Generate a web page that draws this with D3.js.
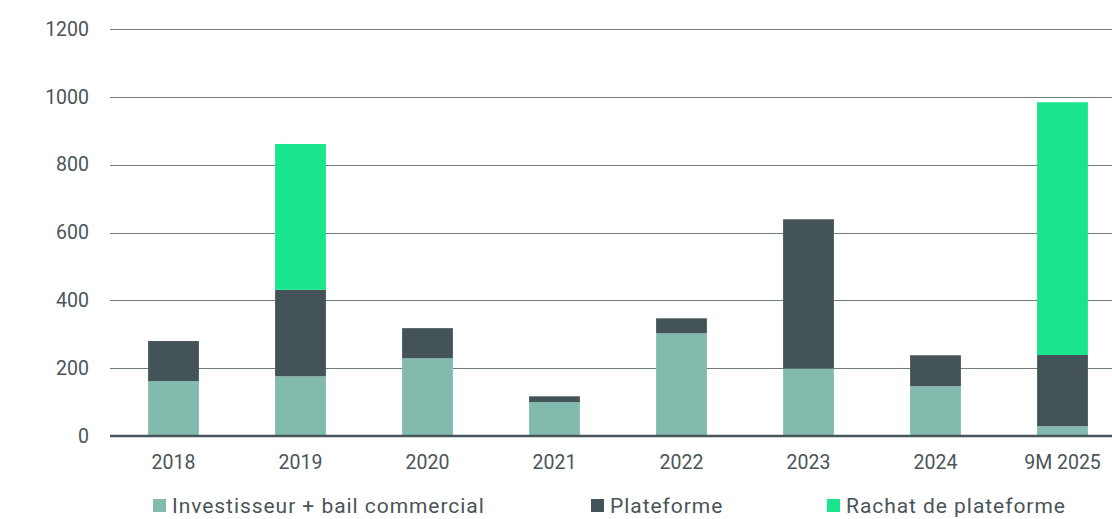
<!DOCTYPE html>
<html><head><meta charset="utf-8">
<script src="https://cdn.jsdelivr.net/npm/d3@7"></script>
<style>html,body{margin:0;padding:0;background:#fff;}svg{display:block;font-family:Roboto,sans-serif;}</style>
</head><body>
<svg id="c" width="1112" height="519"></svg>
<script>
const categories = ["2018","2019","2020","2021","2022","2023","2024","9M 2025"];
const investisseur = [162,176,229,100,303,199,147,29];
const plateforme = [118,255,89,17,44,440,91,210];
const rachat = [0,430,0,0,0,0,0,745];
const seriesNames = ["Investisseur + bail commercial","Plateforme","Rachat de plateforme"];
const colors = ["#82bbad","#445357","#19e68c"];
const yTicks = [0,200,400,600,800,1000,1200];

const svg = d3.select("#c");
const x = d3.scaleBand().domain(categories).range([110,1126]).paddingInner(0.6).paddingOuter(0.3);
const y = d3.scaleLinear().domain([0,1200]).range([436,29]);

const rows = categories.map((c,i)=>({cat:c, s0:investisseur[i], s1:plateforme[i], s2:rachat[i]}));
const stack = d3.stack().keys(["s0","s1","s2"])(rows);

// grid
svg.append("g").selectAll("line").data(yTicks.filter(d=>d>0)).join("line")
  .attr("x1",110).attr("x2",1112).attr("y1",d=>Math.round(y(d))+0.5).attr("y2",d=>Math.round(y(d))+0.5)
  .attr("stroke","#6f7d7f").attr("stroke-width",1.2);

// bars
svg.append("g").selectAll("g").data(stack).join("g").attr("fill",(d,i)=>colors[i])
  .selectAll("rect").data(d=>d).join("rect")
  .attr("x",d=>x(d.data.cat)).attr("width",x.bandwidth())
  .attr("y",d=>y(d[1])).attr("height",d=>Math.max(0,y(d[0])-y(d[1])));

// baseline
svg.append("line").attr("x1",110).attr("x2",1112).attr("y1",y(0)).attr("y2",y(0))
  .attr("stroke","#45555a").attr("stroke-width",2.5);

// y axis labels
const yAxis = d3.axisLeft(y).tickValues(yTicks).tickSize(0).tickPadding(0).tickFormat(d3.format("d"));
const ya = svg.append("g").attr("transform","translate(89,0)").call(yAxis);
ya.select(".domain").remove();
ya.selectAll("text").attr("font-size","19.5px").attr("fill","#4a5558").attr("font-family","Roboto,sans-serif");

// x axis labels
const xAxis = d3.axisBottom(x).tickSize(0).tickPadding(0);
const xa = svg.append("g").attr("transform","translate(0,455)").call(xAxis);
xa.select(".domain").remove();
xa.selectAll("text").attr("font-size","19.5px").attr("fill","#4a5558").attr("font-family","Roboto,sans-serif");

// legend
const legendX = [153,591,827];
const lg = svg.append("g").selectAll("g").data(seriesNames).join("g")
  .attr("transform",(d,i)=>`translate(${legendX[i]},499)`);
lg.append("rect").attr("width",13).attr("height",13).attr("fill",(d,i)=>colors[i]);
lg.append("text").attr("x",19).attr("y",13.5).attr("font-size","21px").attr("letter-spacing","0.95px")
  .attr("font-family","Roboto,sans-serif").attr("fill","#4a5558").text(d=>d);
</script>
</body></html>
